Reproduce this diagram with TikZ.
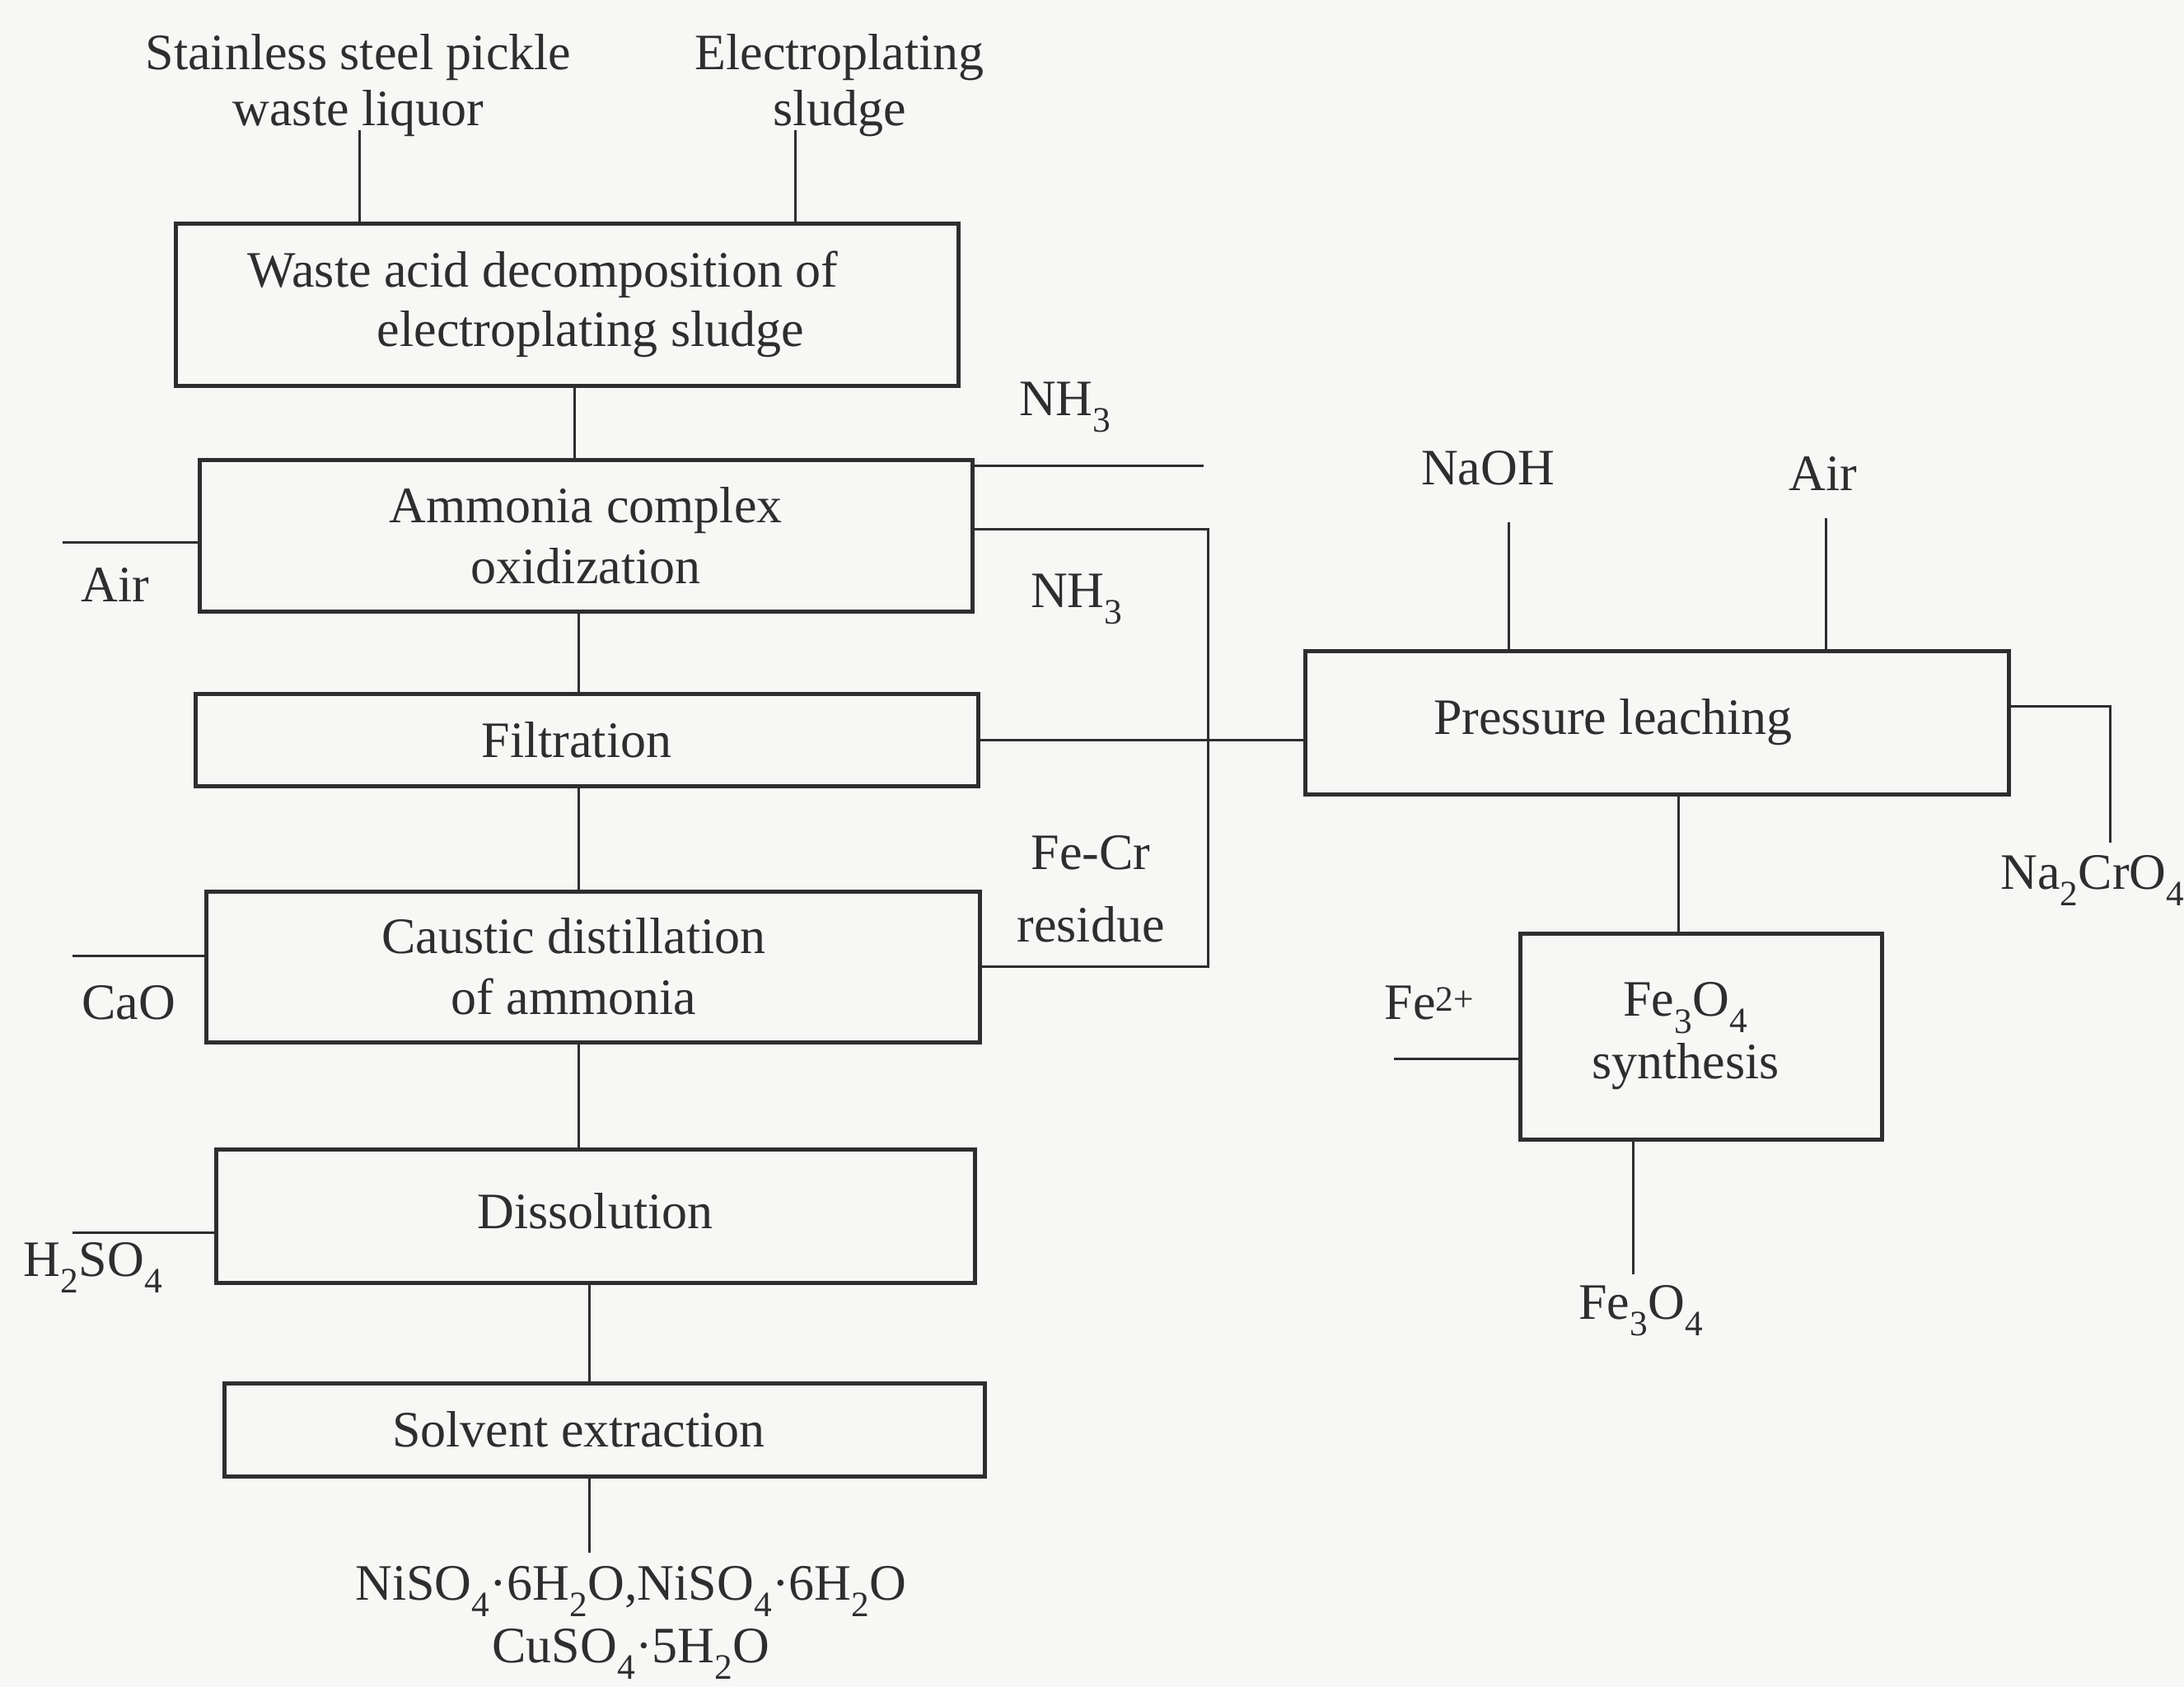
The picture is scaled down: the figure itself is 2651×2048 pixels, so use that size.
\documentclass[tikz,border=0pt]{standalone}
\usepackage{fontspec}
\setmainfont{Liberation Serif}
\definecolor{ink}{HTML}{2E2E2E}
\definecolor{paper}{HTML}{F7F7F5}
\newcommand\labfont{\fontsize{62}{72}\selectfont}
\begin{document}
\begin{tikzpicture}[x=1pt,y=-1pt,
  box/.style={draw=ink, line width=5pt, inner sep=0pt, align=center, font=\labfont, text=ink},
  lab/.style={inner sep=0pt, align=center, font=\labfont, text=ink},
  conn/.style={draw=ink, line width=3pt}]
\fill[paper] (0,0) rectangle (2651,2048);
\useasboundingbox (0,0) rectangle (2651,2048);

% process boxes
\node[box, minimum width=950pt, minimum height=197pt] (b1) at (688,369.5)
  {\hspace*{-58pt}Waste acid decomposition of\\\hspace*{58pt}electroplating sludge};
\node[box, minimum width=938pt, minimum height=184pt] (b2) at (711,650)
  {Ammonia complex\\[2pt]oxidization};
\node[box, minimum width=950pt, minimum height=112pt] (b3) at (712,898)
  {\hspace*{-24pt}Filtration};
\node[box, minimum width=939pt, minimum height=183pt] (b4) at (719.5,1173.5)
  {\hspace*{-46pt}Caustic distillation\\[2pt]\hspace*{-46pt}of ammonia};
\node[box, minimum width=921pt, minimum height=162pt] (b5) at (722.5,1476)
  {\raisebox{12pt}{Dissolution}};
\node[box, minimum width=923pt, minimum height=113pt] (b6) at (733.5,1735.5)
  {\hspace*{-62pt}Solvent extraction};
\node[box, minimum width=854pt, minimum height=174pt] (pl) at (2011,877)
  {\hspace*{-106pt}Pressure leaching};
\node[box, minimum width=439pt, minimum height=250pt] (fs) at (2064.5,1258)
  {\hspace*{-37pt}Fe\textsubscript{3}O\textsubscript{4}\\[4pt]\hspace*{-37pt}synthesis};

% labels
\node[lab] (src1) at (435,104) {Stainless steel pickle\\[-4pt]waste liquor};
\node[lab] (src2) at (1019,104) {Electroplating\\[-4pt]sludge};
\node[lab] (nh3a) at (1293,494) {NH\textsubscript{3}};
\node[lab] (nh3b) at (1307,727) {NH\textsubscript{3}};
\node[lab] (fecr) at (1324,1079) {Fe-Cr\\[16pt]residue};
\node[lab] (air1) at (140,710) {Air};
\node[lab] (cao) at (156,1217) {CaO};
\node[lab] (h2so4) at (113,1539) {H\textsubscript{2}SO\textsubscript{4}};
\node[lab] (prod) at (766,1970)
  {NiSO\textsubscript{4}·6H\textsubscript{2}O,NiSO\textsubscript{4}·6H\textsubscript{2}O\\[4pt]CuSO\textsubscript{4}·5H\textsubscript{2}O};
\node[lab] (naoh) at (1806,568) {NaOH};
\node[lab] (air2) at (2213,575) {Air};
\node[lab] (na2cro4) at (2540,1069) {Na\textsubscript{2}CrO\textsubscript{4}};
\node[lab] (fe2) at (1735,1217) {Fe\textsuperscript{2+}};
\node[lab] (fe3o4) at (1992,1591) {Fe\textsubscript{3}O\textsubscript{4}};

% free ends and bends
\coordinate (s1e) at (436,158);
\coordinate (s2e) at (965,158);
\coordinate (nh3e) at (1461,565);
\coordinate (loopc) at (1466,642);
\coordinate (aire) at (76,658);
\coordinate (caoe) at (88,1160);
\coordinate (h2e) at (88,1496);
\coordinate (prode) at (715,1885);
\coordinate (naohe) at (1831,634);
\coordinate (air2e) at (2216,629);
\coordinate (nacrk) at (2561,857);
\coordinate (nacr) at (2561,1023);
\coordinate (fe2e) at (1692,1285);
\coordinate (feo) at (1982,1547);

% connectors
\draw[conn] (s1e) -- (s1e |- b1.north);
\draw[conn] (s2e) -- (s2e |- b1.north);
\draw[conn] ([xshift=9pt]b1.south) -- ([xshift=9pt]b1.south |- b2.north);
\draw[conn] ([xshift=-9pt]b2.south) -- ([xshift=-9pt]b2.south |- b3.north);
\draw[conn] ([xshift=-10pt]b3.south) -- ([xshift=-10pt]b3.south |- b4.north);
\draw[conn] ([xshift=-17.5pt]b4.south) -- ([xshift=-17.5pt]b4.south |- b5.north);
\draw[conn] ([xshift=-7.5pt]b5.south) -- ([xshift=-7.5pt]b5.south |- b6.north);
\draw[conn] (prode |- b6.south) -- (prode);
\draw[conn] (nh3e -| b2.east) -- (nh3e);
\draw[conn] (loopc -| b2.east) -- (loopc) |- (b4.east);
\draw[conn] (b3.east) -- (b3.east -| pl.west);
\draw[conn] (aire) -- (aire -| b2.west);
\draw[conn] (caoe) -- (caoe -| b4.west);
\draw[conn] (h2e) -- (h2e -| b5.west);
\draw[conn] (naohe) -- (naohe |- pl.north);
\draw[conn] (air2e) -- (air2e |- pl.north);
\draw[conn] (nacrk -| pl.east) -- (nacrk) -- (nacr);
\draw[conn] ([xshift=26pt]pl.south) -- ([xshift=26pt]pl.south |- fs.north);
\draw[conn] (fe2e) -- (fe2e -| fs.west);
\draw[conn] (feo |- fs.south) -- (feo);
\end{tikzpicture}
\end{document}
